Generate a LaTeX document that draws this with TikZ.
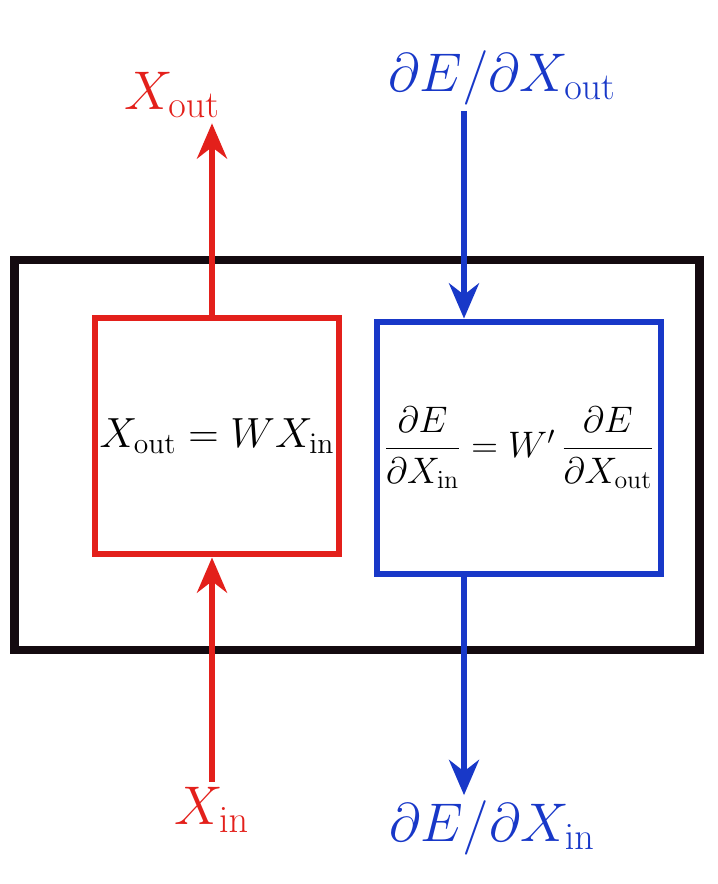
\documentclass[tikz,border=0pt]{standalone}
\usepackage{fix-cm}
\usepackage{amsmath}
\usetikzlibrary{arrows.meta,positioning}
\definecolor{fpropred}{HTML}{E3201B}
\definecolor{bpropblue}{HTML}{1838C8}
\definecolor{layerblack}{HTML}{140A10}

\begin{document}
\begin{tikzpicture}[
  x=0.02cm, y=-0.02cm,
  >={Stealth[length=20pt,width=17pt]},
  layerbox/.style={
    draw=layerblack,
    line width=4.8pt,
    minimum width=13.7cm,
    minimum height=7.8cm
  },
  modbox/.style={
    line width=3.4pt,
    inner sep=0pt,
    font=\fontsize{24}{29}\selectfont
  },
  siglabel/.style={
    inner sep=3pt,
    font=\fontsize{31}{36}\selectfont
  },
  fwdline/.style={->, line width=3.4pt, draw=fpropred},
  bwdline/.style={->, line width=3.4pt, draw=bpropblue}
]
  \useasboundingbox (0,0) rectangle (717,884);

  % Layer
  \node[layerbox] (layer) at (357,455) {};

  % Forward and backward modules
  \node[modbox, draw=fpropred, minimum width=4.9cm, minimum height=4.74cm] (fwd) at (217,436)
    {$X_{\mathrm{out}} = W X_{\mathrm{in}}$};
  \node[modbox, draw=bpropblue, minimum width=5.7cm, minimum height=5.06cm,
        font=\fontsize{21}{26}\selectfont] (bwd) at (519,448)
    {$\dfrac{\partial E}{\partial X_{\mathrm{in}}} = W'\,\dfrac{\partial E}{\partial X_{\mathrm{out}}}$};

  % Signals
  \node[siglabel, text=fpropred] (xout) at (172,95) {$X_{\mathrm{out}}$};
  \node[siglabel, text=bpropblue] (dout) at (502,78) {$\partial E/\partial X_{\mathrm{out}}$};
  \node[siglabel, text=fpropred] (xin) at (212,810) {$X_{\mathrm{in}}$};
  \node[siglabel, text=bpropblue] (din) at (492,828) {$\partial E/\partial X_{\mathrm{in}}$};

  % Connectors
  \coordinate (fcol) at (212,0);
  \coordinate (bcol) at (464,0);
  \draw[fwdline] (fcol |- fwd.north) -- (fcol |- xout.south);
  \draw[fwdline] (fcol |- xin.north) -- (fcol |- fwd.south);
  \draw[bwdline] (bcol |- dout.south) -- (bcol |- bwd.north);
  \draw[bwdline] (bcol |- bwd.south) -- (bcol |- din.north);

\end{tikzpicture}
\end{document}
